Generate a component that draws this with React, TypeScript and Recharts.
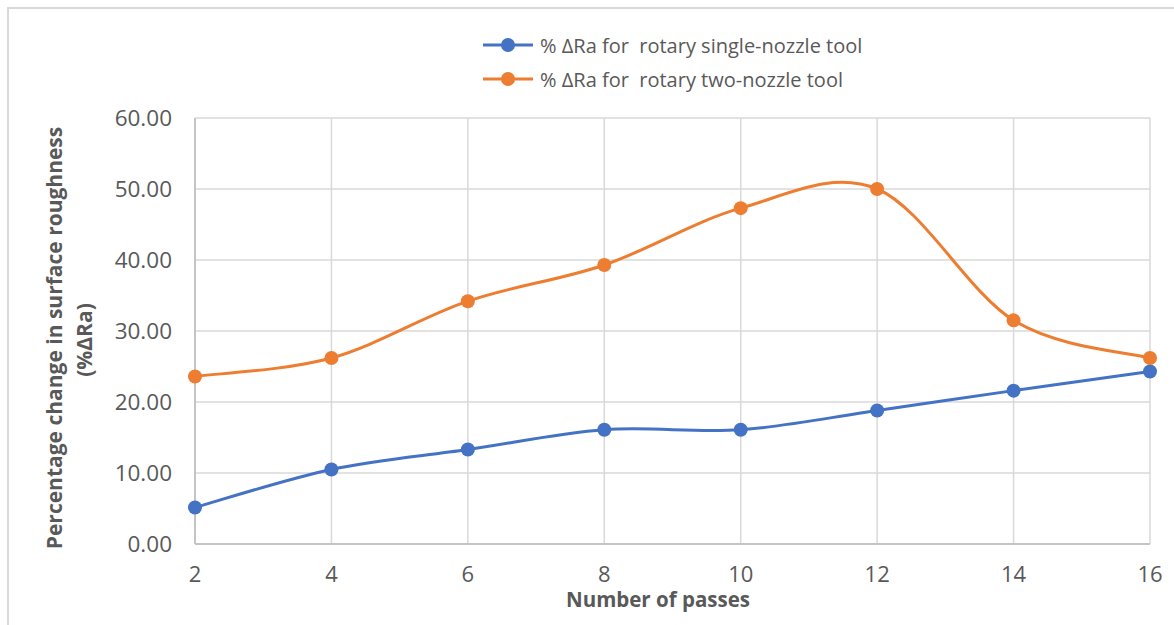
import { LineChart, Line, XAxis, YAxis, CartesianGrid, Legend } from "recharts";

const passes = [2, 4, 6, 8, 10, 12, 14, 16];
const singleNozzle = [5.15, 10.5, 13.3, 16.1, 16.1, 18.8, 21.6, 24.3];
const twoNozzle = [23.6, 26.2, 34.2, 39.3, 47.3, 50.0, 31.5, 26.2];
const yTicks = [0, 10, 20, 30, 40, 50, 60];

const seriesNames = {
  single: "% \u0394Ra for  rotary single-nozzle tool",
  two: "% \u0394Ra for  rotary two-nozzle tool",
};

const BLUE = "#4472C4";
const ORANGE = "#ED7D31";
const TEXT = "#595959";
const FONT = "'Open Sans', 'Noto Sans', sans-serif";

const data = passes.map((p, i) => ({
  passes: p,
  single: singleNozzle[i],
  two: twoNozzle[i],
}));

// Smoothed line like spreadsheet "smooth line": Catmull-Rom segments as cubic Beziers
function smoothCurve(context: any) {
  let pts: number[][] = [];
  return {
    areaStart() {},
    areaEnd() {},
    lineStart() {
      pts = [];
    },
    point(x: number, y: number) {
      pts.push([+x, +y]);
    },
    lineEnd() {
      const n = pts.length;
      if (!n) return;
      context.moveTo(pts[0][0], pts[0][1]);
      for (let i = 0; i < n - 1; i++) {
        const p0 = pts[Math.max(i - 1, 0)];
        const p1 = pts[i];
        const p2 = pts[i + 1];
        const p3 = pts[Math.min(i + 2, n - 1)];
        context.bezierCurveTo(
          p1[0] + (p2[0] - p0[0]) / 6,
          p1[1] + (p2[1] - p0[1]) / 6,
          p2[0] - (p3[0] - p1[0]) / 6,
          p2[1] - (p3[1] - p1[1]) / 6,
          p2[0],
          p2[1]
        );
      }
    },
  };
}

function LegendBox() {
  const rows = [
    { name: seriesNames.single, color: BLUE },
    { name: seriesNames.two, color: ORANGE },
  ];
  return (
    <div>
      {rows.map((r) => (
        <div key={r.name} style={{ display: "flex", alignItems: "center", height: 34 }}>
          <svg width={52} height={16} style={{ marginRight: 5 }}>
            <line x1={0} y1={8} x2={50} y2={8} stroke={r.color} strokeWidth={3} />
            <circle cx={25} cy={8} r={7} fill={r.color} />
          </svg>
          <span style={{ fontFamily: FONT, fontSize: 20, color: TEXT, whiteSpace: "pre" }}>{r.name}</span>
        </div>
      ))}
    </div>
  );
}

function YTitle(props: any) {
  const cy = 338;
  return (
    <g fontFamily={FONT} fontWeight={700} fontSize={21} fill={TEXT} textAnchor="middle">
      <text x={62} y={cy} transform={`rotate(-90, 62, ${cy})`}>
        Percentage change in surface roughness
      </text>
      <text x={92} y={cy + 2} transform={`rotate(-90, 92, ${cy + 2})`}>
        (%{"\u0394"}Ra)
      </text>
    </g>
  );
}

function XTitle(props: any) {
  return (
    <text x={658} y={607} fontFamily={FONT} fontWeight={700} fontSize={20.5} fill={TEXT} textAnchor="middle">
      Number of passes
    </text>
  );
}

export default function App() {
  return (
    <div style={{ position: "absolute", left: 0, top: 0, width: 1174, height: 625, background: "#fff" }}>
      <div
        style={{
          position: "absolute",
          left: 7,
          top: 7,
          right: 0,
          bottom: 0,
          borderTop: "2.5px solid #d9d9d9",
          borderLeft: "2.5px solid #d9d9d9",
        }}
      />
      <LineChart
        width={1174}
        height={625}
        data={data}
        margin={{ top: 118, right: 24, bottom: 51, left: 95 }}
        style={{ position: "absolute", left: 0, top: 0 }}
      >
        <CartesianGrid stroke="#d9d9d9" strokeWidth={1.5} />
        <XAxis
          dataKey="passes"
          padding={{ left: 0, right: 0 }}
          height={30}
          axisLine={{ stroke: "#c4c4c4", strokeWidth: 2 }}
          tickLine={false}
          tickSize={0}
          tickMargin={22}
          tick={{ fill: TEXT, fontSize: 22, fontFamily: FONT }}
          label={{ content: XTitle }}
        />
        <YAxis
          width={100}
          domain={[0, 60]}
          ticks={yTicks}
          interval={0}
          tickFormatter={(v: number) => v.toFixed(2)}
          axisLine={{ stroke: "#c4c4c4", strokeWidth: 2 }}
          tickLine={false}
          tickSize={0}
          tickMargin={23}
          tick={{ fill: TEXT, fontSize: 22.5, fontFamily: FONT }}
          label={{ content: YTitle }}
        />
        <Legend
          layout="vertical"
          align="center"
          verticalAlign="middle"
          content={() => <LegendBox />}
          wrapperStyle={{ top: 28, left: 483, width: 440, height: 70 }}
        />
        <Line
          type={smoothCurve as any}
          dataKey="single"
          name={seriesNames.single}
          stroke={BLUE}
          strokeWidth={3}
          dot={{ r: 7, fill: BLUE, stroke: BLUE, strokeWidth: 0 }}
          isAnimationActive={false}
        />
        <Line
          type={smoothCurve as any}
          dataKey="two"
          name={seriesNames.two}
          stroke={ORANGE}
          strokeWidth={3}
          dot={{ r: 7, fill: ORANGE, stroke: ORANGE, strokeWidth: 0 }}
          isAnimationActive={false}
        />
      </LineChart>
    </div>
  );
}
